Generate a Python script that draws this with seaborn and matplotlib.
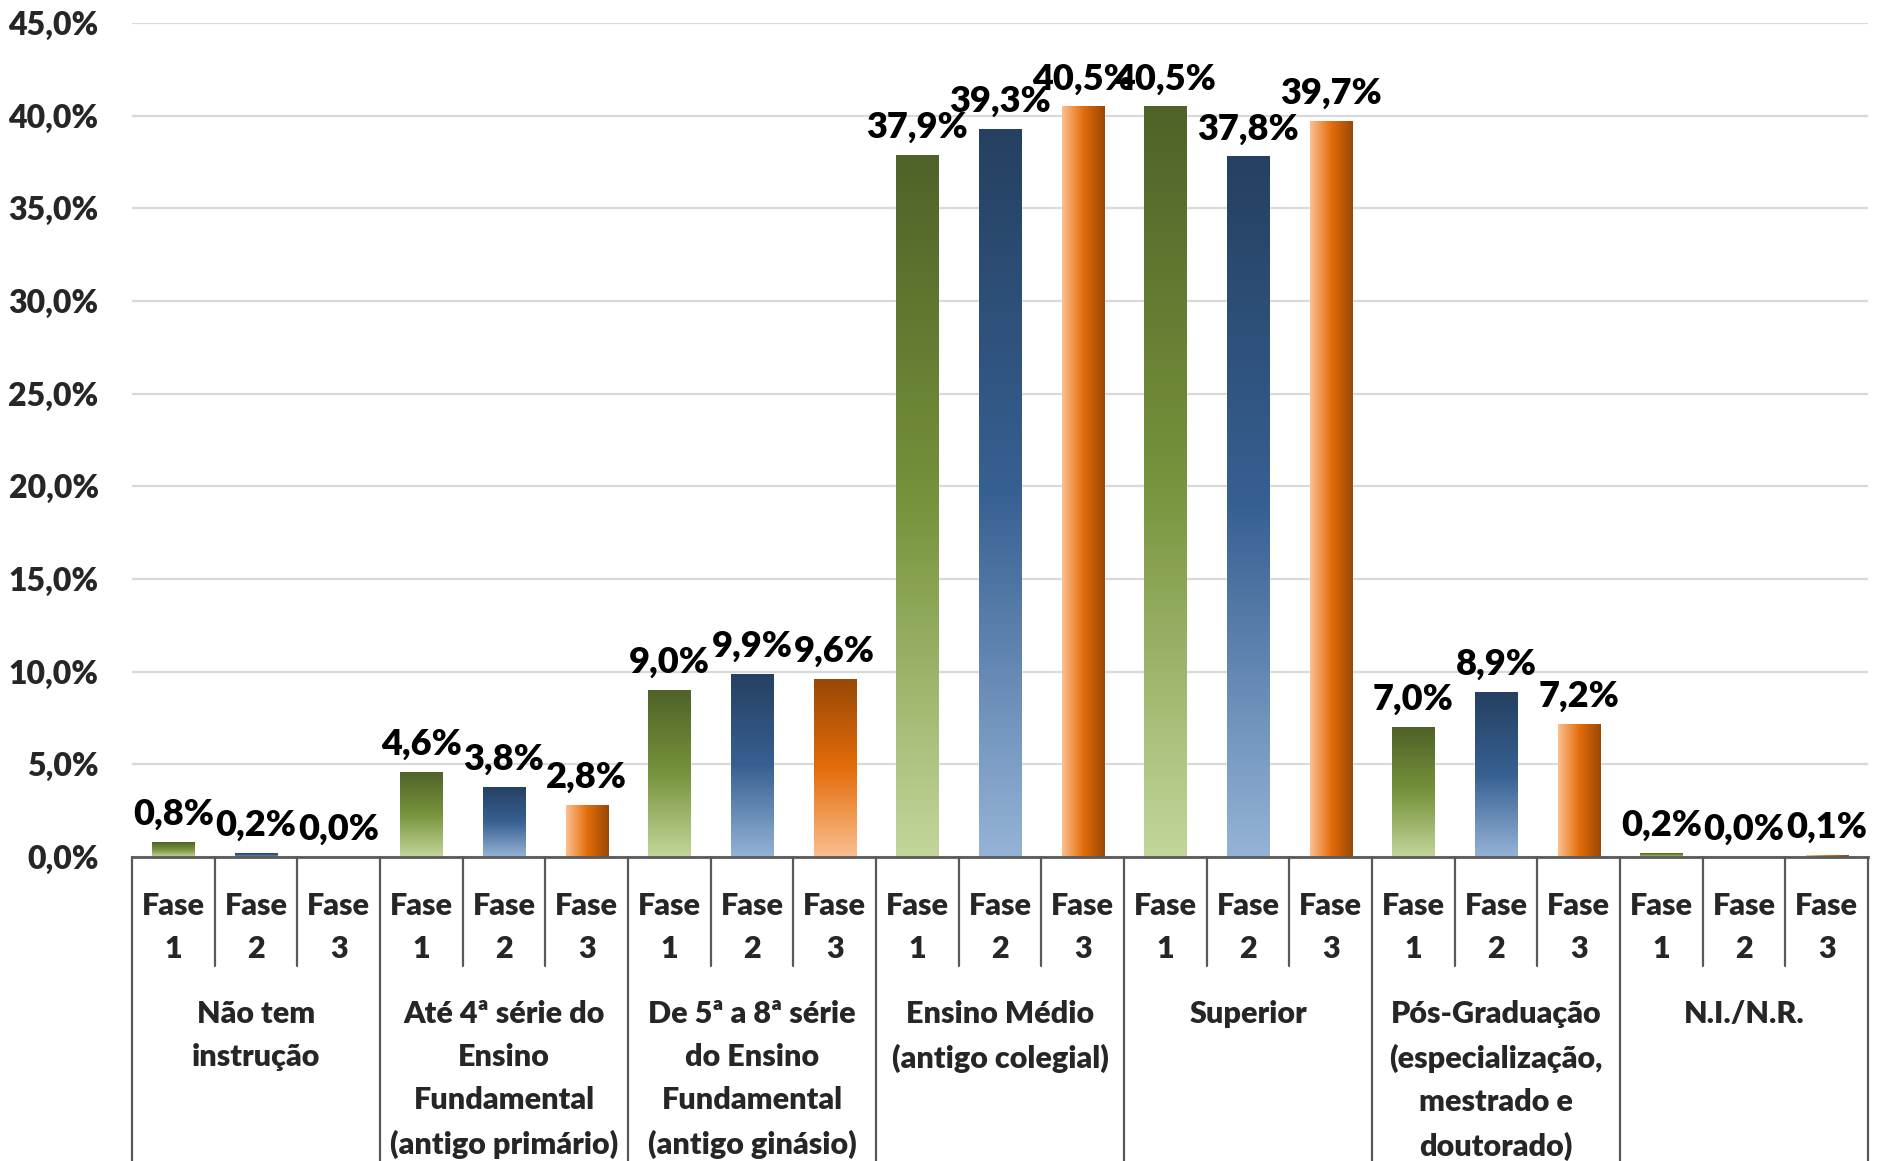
import numpy as np
import pandas as pd
import matplotlib
matplotlib.use("Agg")
import matplotlib.pyplot as plt
from matplotlib.colors import LinearSegmentedColormap
import seaborn as sns

# escolaridade por fase (%)
grupos = ["Não tem\ninstrução",
          "Até 4ª série do\nEnsino\nFundamental\n(antigo primário)",
          "De 5ª a 8ª série\ndo Ensino\nFundamental\n(antigo ginásio)",
          "Ensino Médio\n(antigo colegial)",
          "Superior",
          "Pós-Graduação\n(especialização,\nmestrado e\ndoutorado)",
          "N.I./N.R."]
fases = ["Fase 1", "Fase 2", "Fase 3"]
fase1 = [0.8, 4.6, 9.0, 37.9, 40.5, 7.0, 0.2]
fase2 = [0.2, 3.8, 9.9, 39.3, 37.8, 8.9, 0.0]
fase3 = [0.0, 2.8, 9.6, 40.5, 39.7, 7.2, 0.1]
yticks = [0, 5, 10, 15, 20, 25, 30, 35, 40, 45]

rows = []
for i, g in enumerate(grupos):
    for f, vals in zip(fases, [fase1, fase2, fase3]):
        rows.append({"slot": f"{i}|{f}", "grupo": g, "fase": f, "valor": vals[i]})
df = pd.DataFrame(rows)

sns.set_theme(style="white")
plt.rcParams["font.family"] = ["Lato", "DejaVu Sans"]
W = "heavy"

# gradients: light -> mid -> dark
cmaps = {
    "Fase 1": LinearSegmentedColormap.from_list("g", ["#C3D69B", "#77933C", "#4F6228"]),
    "Fase 2": LinearSegmentedColormap.from_list("b", ["#95B3D7", "#376092", "#254061"]),
    "Fase 3": LinearSegmentedColormap.from_list("o", ["#FAC090", "#E46C0A", "#984807"]),
}
palette = {"Fase 1": "#77933C", "Fase 2": "#376092", "Fase 3": "#E46C0A"}

fig = plt.figure(figsize=(18.81, 11.61), dpi=100)
ax = fig.add_axes([132 / 1881, (1161 - 857) / 1161, (1868 - 132) / 1881, (857 - 23) / 1161])

sns.barplot(data=df, x="slot", y="valor", hue="fase", palette=palette,
            order=list(df["slot"]), dodge=False, width=0.51, legend=False, ax=ax)

vertical = np.linspace(0, 1, 256).reshape(-1, 1)
horizontal = np.linspace(0, 1, 256).reshape(1, -1)
for p in list(ax.patches):
    h = p.get_height()
    if h <= 0:
        continue
    idx = int(round(p.get_x() + p.get_width() / 2))
    row = df.iloc[idx]
    grad = vertical
    if row["fase"] == "Fase 3" and idx != 8:
        grad = horizontal
    x0 = p.get_x()
    im = ax.imshow(grad, extent=[x0, x0 + p.get_width(), 0, h], origin="lower",
                   aspect="auto", cmap=cmaps[row["fase"]], zorder=p.get_zorder() + 0.1,
                   interpolation="bilinear")
    im.set_clip_path(p)

for idx, row in df.iterrows():
    txt = f"{row['valor']:.1f}".replace(".", ",") + "%"
    ax.annotate(txt, (idx, row["valor"]), xytext=(0, 8), textcoords="offset points",
                ha="center", va="bottom", fontsize=26, fontweight=W, color="black")

ax.set_xlim(-0.5, len(df) - 0.5)
ax.set_ylim(0, 45)
ax.set_yticks(yticks)
ax.set_yticklabels([f"{v:.1f}".replace(".", ",") + "%" for v in yticks],
                   fontsize=23, fontweight=W)
ax.tick_params(axis="y", length=0, pad=24)
ax.set_xticks([])
ax.set_xlabel("")
ax.set_ylabel("")
ax.grid(axis="y", color="#D9D9D9", lw=1.6)
ax.set_axisbelow(True)
for s in ["left", "right", "top"]:
    ax.spines[s].set_visible(False)
ax.spines["bottom"].set_color("#595959")
ax.spines["bottom"].set_linewidth(2)

# category table below the axis
tr = ax.get_xaxis_transform()
for k in range(len(df) + 1):
    x = k - 0.5
    bottom = -0.37 if k % 3 == 0 else -0.131
    ax.plot([x, x], [0, bottom], transform=tr, clip_on=False, color="#595959", lw=1.6)

for idx, row in df.iterrows():
    ax.text(idx, -0.085, row["fase"].replace(" ", "\n"), transform=tr, ha="center",
            va="center", fontsize=22, fontweight=W, linespacing=1.65)

for i, g in enumerate(grupos):
    ax.text(3 * i + 1, -0.172, g, transform=tr, ha="center", va="top",
            fontsize=22, fontweight=W, linespacing=1.65)

fig.savefig("out.png", dpi=100)
